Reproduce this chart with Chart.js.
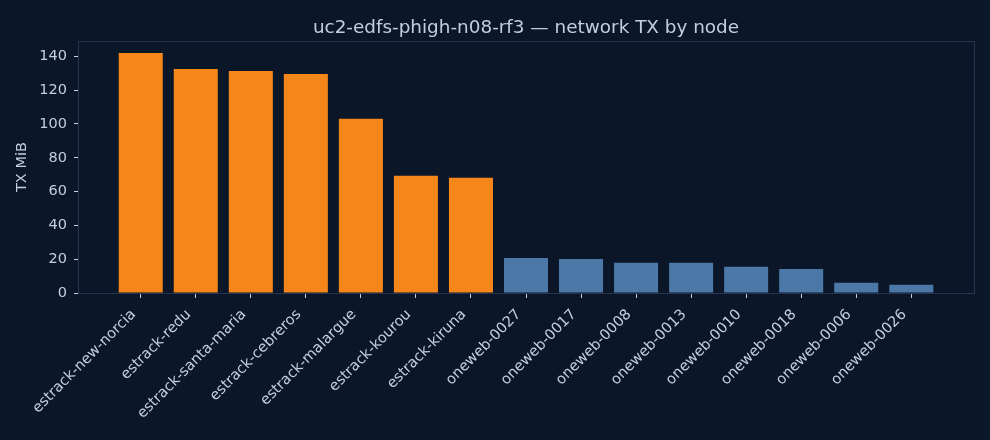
<!DOCTYPE html>
<html>
<head>
<meta charset="utf-8">
<script src="https://cdn.jsdelivr.net/npm/chart.js@4.4.1/dist/chart.umd.min.js"></script>
<style>
  html, body { margin: 0; padding: 0; background: #0b1628; }
  #wrap { width: 990px; height: 440px; position: relative; }
</style>
</head>
<body>
<div id="wrap"><canvas id="c" width="990" height="440"></canvas></div>
<script>
// nodes sorted by TX volume
const nodes = [
  'estrack-new-norcia', 'estrack-redu', 'estrack-santa-maria', 'estrack-cebreros',
  'estrack-malargue', 'estrack-kourou', 'estrack-kiruna',
  'oneweb-0027', 'oneweb-0017', 'oneweb-0008', 'oneweb-0013',
  'oneweb-0010', 'oneweb-0018', 'oneweb-0006', 'oneweb-0026'
];
const txMiB = [141.9, 132.5, 131.3, 129.5, 103.0, 69.3, 68.1,
               20.7, 20.1, 17.9, 17.9, 15.5, 14.2, 6.0, 4.9];
const yTicks = [0, 20, 40, 60, 80, 100, 120, 140];

const TEXT = '#c5cee0';
const FRAME = '#26344f';
const FONT = 'DejaVu Sans';

// ground stations orange, satellites blue
const barColor = n => n.startsWith('estrack') ? '#f5861a' : '#4c78a8';

// matplotlib style full box around plot area
const frame = {
  id: 'frame',
  afterDraw(chart) {
    const {ctx, chartArea: a} = chart;
    ctx.save();
    ctx.strokeStyle = FRAME;
    ctx.lineWidth = 1;
    ctx.strokeRect(a.left + 0.5, a.top + 0.5, a.right - a.left, a.bottom - a.top);
    ctx.restore();
  }
};

new Chart(document.getElementById('c'), {
  type: 'bar',
  data: {
    datasets: [{
      data: nodes.map((n, i) => ({x: i, y: txMiB[i]})),
      backgroundColor: nodes.map(barColor),
      borderWidth: 0,
      categoryPercentage: 1,
      barPercentage: 0.8
    }]
  },
  plugins: [frame],
  options: {
    responsive: false,
    animation: false,
    layout: { padding: { left: 0, right: 16, top: 0, bottom: 0 } },
    plugins: {
      legend: { display: false },
      tooltip: { enabled: false },
      title: {
        display: true,
        fullSize: false,   // center over the plot area, not the canvas
        text: 'uc2-edfs-phigh-n08-rf3 — network TX by node',
        color: TEXT,
        font: { family: FONT, size: 18.4, weight: 'normal' },
        padding: { top: 17, bottom: 2 }
      }
    },
    scales: {
      x: {
        type: 'linear',
        offset: false,
        min: -1.14,
        max: 15.14,
        afterBuildTicks: s => { s.ticks = nodes.map((_, i) => ({value: i})); },
        afterFit: s => { s.height = 147; },
        ticks: {
          color: TEXT,
          font: { family: FONT, size: 14.6 },
          autoSkip: false,
          maxRotation: 45,
          minRotation: 45,
          padding: 8,
          labelOffset: -7,
          callback: v => nodes[v] ?? ''
        },
        grid: { drawOnChartArea: false, offset: false, tickLength: 5, tickColor: TEXT, tickWidth: 1 },
        border: { color: FRAME }
      },
      y: {
        min: 0,
        max: 149,
        afterBuildTicks: s => { s.ticks = yTicks.map(v => ({value: v})); },
        afterFit: s => { s.width = 78; },
        title: {
          display: true,
          text: 'TX MiB',
          color: TEXT,
          font: { family: FONT, size: 14.5 },
          padding: { top: 14, bottom: 0 }
        },
        ticks: {
          color: TEXT,
          font: { family: FONT, size: 14.5 },
          padding: 7
        },
        grid: { drawOnChartArea: false, tickLength: 4, tickColor: TEXT, tickWidth: 1 },
        border: { color: FRAME }
      }
    }
  }
});
</script>
</body>
</html>
